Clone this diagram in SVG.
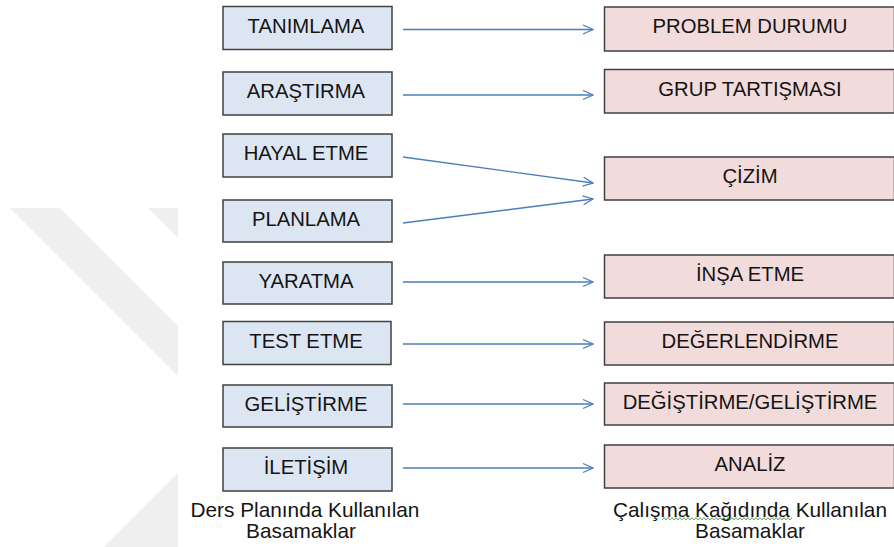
<svg xmlns="http://www.w3.org/2000/svg" width="894" height="547" viewBox="0 0 894 547">
  <style>
    .lbox { fill: #dce6f2; stroke: #404040; stroke-width: 1.5; }
    .rbox { fill: #f2dcdb; stroke: #404040; stroke-width: 1.5; }
    .txt { font-family: "Liberation Sans", Arial, sans-serif; font-size: 20.3px; fill: #141414; text-anchor: middle; }
    .cap { font-family: "Liberation Sans", Arial, sans-serif; font-size: 20.8px; fill: #141414; text-anchor: middle; }
    .link { stroke: #4a7ebb; stroke-width: 1.3; fill: none; marker-end: url(#chev); }
    .mark { fill: #efefef; }
  </style>
  <defs>
    <marker id="chev" viewBox="0 0 12 12" refX="11" refY="6" markerWidth="12" markerHeight="12" markerUnits="userSpaceOnUse" orient="auto">
      <path d="M1,1.5 L11,6 L1,10.5" fill="none" stroke="#4a7ebb" stroke-width="1.3"/>
    </marker>
    <pattern id="squiggle" x="662" y="517" width="4" height="4" patternUnits="userSpaceOnUse">
      <polyline points="0,3 1,1.5 2,0.8 3,1.5 4,3" fill="none" stroke="#3c9a3c" stroke-width="0.9"/>
    </pattern>
  </defs>

  <rect width="894" height="547" fill="#ffffff"/>

  <!-- background marks -->
  <g id="backdrop">
    <polygon class="mark" points="10,208 60,208 178,326 178,376"/>
    <polygon class="mark" points="148,208 178,208 178,238"/>
    <polygon class="mark" points="178,473 104,547 178,547"/>
  </g>

  <!-- lesson-plan steps -->
  <g id="tanimlama"><rect class="lbox" x="223" y="6.5" width="169" height="43"/><text class="txt" x="306" y="32.5">TANIMLAMA</text></g>
  <g id="arastirma"><rect class="lbox" x="223" y="72" width="169" height="43"/><text class="txt" x="306" y="98">ARAŞTIRMA</text></g>
  <g id="hayal-etme"><rect class="lbox" x="223" y="134" width="169" height="43"/><text class="txt" x="306" y="160">HAYAL ETME</text></g>
  <g id="planlama"><rect class="lbox" x="223" y="200" width="169" height="42"/><text class="txt" x="306" y="225.5">PLANLAMA</text></g>
  <g id="yaratma"><rect class="lbox" x="223" y="262" width="169" height="42"/><text class="txt" x="306" y="287.5">YARATMA</text></g>
  <g id="test-etme"><rect class="lbox" x="223" y="321.5" width="168" height="43"/><text class="txt" x="306" y="347.5">TEST ETME</text></g>
  <g id="gelistirme"><rect class="lbox" x="223" y="385" width="169" height="42"/><text class="txt" x="306" y="410.5">GELİŞTİRME</text></g>
  <g id="iletisim"><rect class="lbox" x="223" y="448" width="169" height="43"/><text class="txt" x="306" y="474">İLETİŞİM</text></g>

  <!-- worksheet steps -->
  <g id="problem-durumu"><rect class="rbox" x="604.5" y="7" width="290" height="44"/><text class="txt" x="750" y="33">PROBLEM DURUMU</text></g>
  <g id="grup-tartismasi"><rect class="rbox" x="604.5" y="69.5" width="290" height="43.5"/><text class="txt" x="750" y="95.5">GRUP TARTIŞMASI</text></g>
  <g id="cizim"><rect class="rbox" x="604.5" y="157" width="290" height="43"/><text class="txt" x="750" y="182.5">ÇİZİM</text></g>
  <g id="insa-etme"><rect class="rbox" x="604.5" y="255" width="290" height="43"/><text class="txt" x="750" y="280.5">İNŞA ETME</text></g>
  <g id="degerlendirme"><rect class="rbox" x="604.5" y="322" width="290" height="43"/><text class="txt" x="750" y="347.5">DEĞERLENDİRME</text></g>
  <g id="degistirme-gelistirme"><rect class="rbox" x="604.5" y="383" width="290" height="42"/><text class="txt" x="750" y="408.5">DEĞİŞTİRME/GELİŞTİRME</text></g>
  <g id="analiz"><rect class="rbox" x="604.5" y="445" width="290" height="43"/><text class="txt" x="750" y="470.5">ANALİZ</text></g>

  <!-- connectors -->
  <g id="connectors">
    <line class="link" x1="403" y1="29.5" x2="593" y2="29.5"/>
    <line class="link" x1="403" y1="95" x2="593" y2="95"/>
    <line class="link" x1="403" y1="157" x2="593" y2="183"/>
    <line class="link" x1="403" y1="223" x2="593" y2="199"/>
    <line class="link" x1="403" y1="282" x2="593" y2="282"/>
    <line class="link" x1="403" y1="344" x2="593" y2="344"/>
    <line class="link" x1="403" y1="404" x2="593" y2="404"/>
    <line class="link" x1="403" y1="468" x2="593" y2="468"/>
  </g>

  <!-- column captions -->
  <g id="caption-left">
    <text class="cap" x="305" y="516.5">Ders Planında Kullanılan</text>
    <text class="cap" x="301" y="537.5">Basamaklar</text>
  </g>
  <g id="caption-right">
    <text class="cap" x="750" y="516.5">Çalışma Kağıdında Kullanılan</text>
    <text class="cap" x="750" y="537.5">Basamaklar</text>
    <rect x="662" y="517" width="130" height="4" fill="url(#squiggle)"/>
  </g>
</svg>
